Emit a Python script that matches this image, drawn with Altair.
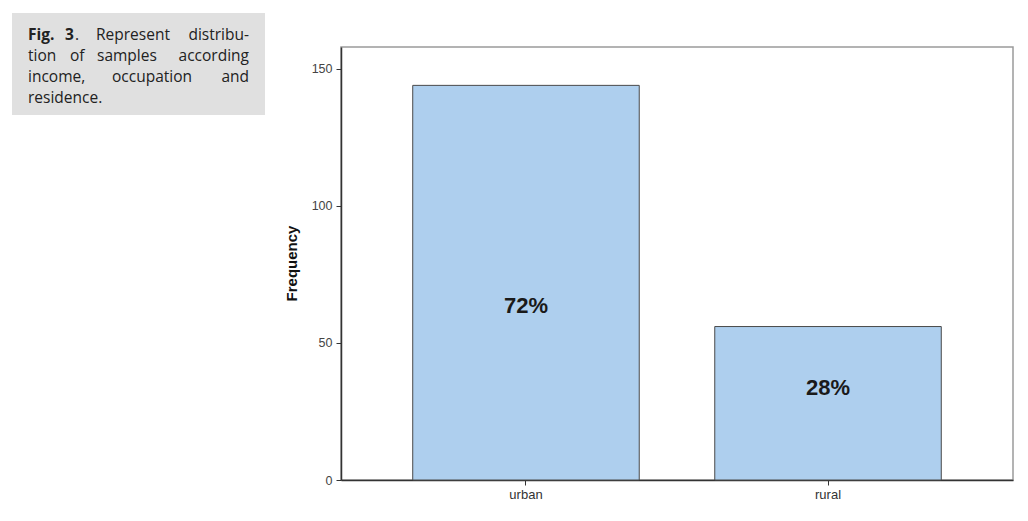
import altair as alt
import pandas as pd

# ---- data ----
categories = ["urban", "rural"]
frequency = [144, 56]
percent_labels = ["72%", "28%"]
label_at = [63.4, 33.4]          # frequency level where the % label sits
y_ticks = [0, 50, 100, 150]

caption_lines = [
    [("Fig.", "bold", -313, "left"), ("3", "bold", -276, "left"), (".", "normal", -266, "left"),
     ("Represent", "normal", -245, "left"), ("distribu-", "normal", -92, "right")],
    [("tion", "normal", -313, "left"), ("of", "normal", -271, "left"),
     ("samples", "normal", -244, "left"), ("according", "normal", -92, "right")],
    [("income,", "normal", -313, "left"), ("occupation", "normal", -229, "left"),
     ("and", "normal", -92, "right")],
    [("residence.", "normal", -313, "left")],
]
caption_baselines = [-7, 14, 35, 56]

df = pd.DataFrame({
    "residence": categories,
    "frequency": frequency,
    "pct": percent_labels,
    "label_y": label_at,
})

FONT = "Liberation Sans"

x_enc = alt.X(
    "residence:N",
    sort=categories,
    scale=alt.Scale(paddingInner=0.25, paddingOuter=0.2375),
    axis=alt.Axis(
        title=None, labelAngle=0, labelFont=FONT, labelFontSize=13,
        labelColor="#333333", tickSize=5, tickColor="#333333",
        domainColor="#333333", domainWidth=1.5, labelPadding=3,
    ),
)
y_scale = alt.Scale(domain=[0, 158], nice=False)

base = alt.Chart(df)

bars = base.mark_bar(fill="#aecfee", stroke="#4a4a4a", strokeWidth=1).encode(
    x=x_enc,
    y=alt.Y(
        "frequency:Q",
        scale=y_scale,
        axis=alt.Axis(
            values=y_ticks, grid=False, title="Frequency",
            titleFont=FONT, titleFontSize=15, titleFontWeight="bold", titleColor="#111111",
            titleX=-50, titleY=216, titleAngle=270, titleAlign="center", titleBaseline="middle",
            labelFont=FONT, labelFontSize=12.5, labelColor="#444444", labelPadding=4,
            tickSize=5, tickColor="#333333", domainColor="#333333", domainWidth=1.5,
        ),
    ),
)

labels = base.mark_text(font=FONT, fontSize=22, fontWeight="bold", color="#1a1a1a",
                        baseline="middle").encode(
    x=alt.X("residence:N", sort=categories),
    y=alt.Y("label_y:Q", scale=y_scale),
    text="pct:N",
)

ann = alt.Chart(pd.DataFrame({"a": [0]}))
box = ann.mark_rect(fill="#e0e0e0").encode(
    x=alt.value(-329), x2=alt.value(-76), y=alt.value(-34), y2=alt.value(68)
)

words = []
for line, yb in zip(caption_lines, caption_baselines):
    for w, weight, xp, al in line:
        words.append(
            ann.mark_text(text=w, font="Open Sans", fontSize=15.5, fontWeight=weight,
                          color="#222222", align=al, baseline="alphabetic").encode(
                x=alt.value(xp), y=alt.value(yb)
            )
        )

chart = alt.layer(box, *words, bars, labels).properties(
    width=672, height=433,
    padding={"left": 333, "top": 39, "right": 7, "bottom": 33},
    autosize=alt.AutoSizeParams(type="none"),
).configure_view(stroke="#9a9a9a", strokeWidth=1.5)

chart.save("out.html", embed_options={"renderer": "svg", "actions": False})
